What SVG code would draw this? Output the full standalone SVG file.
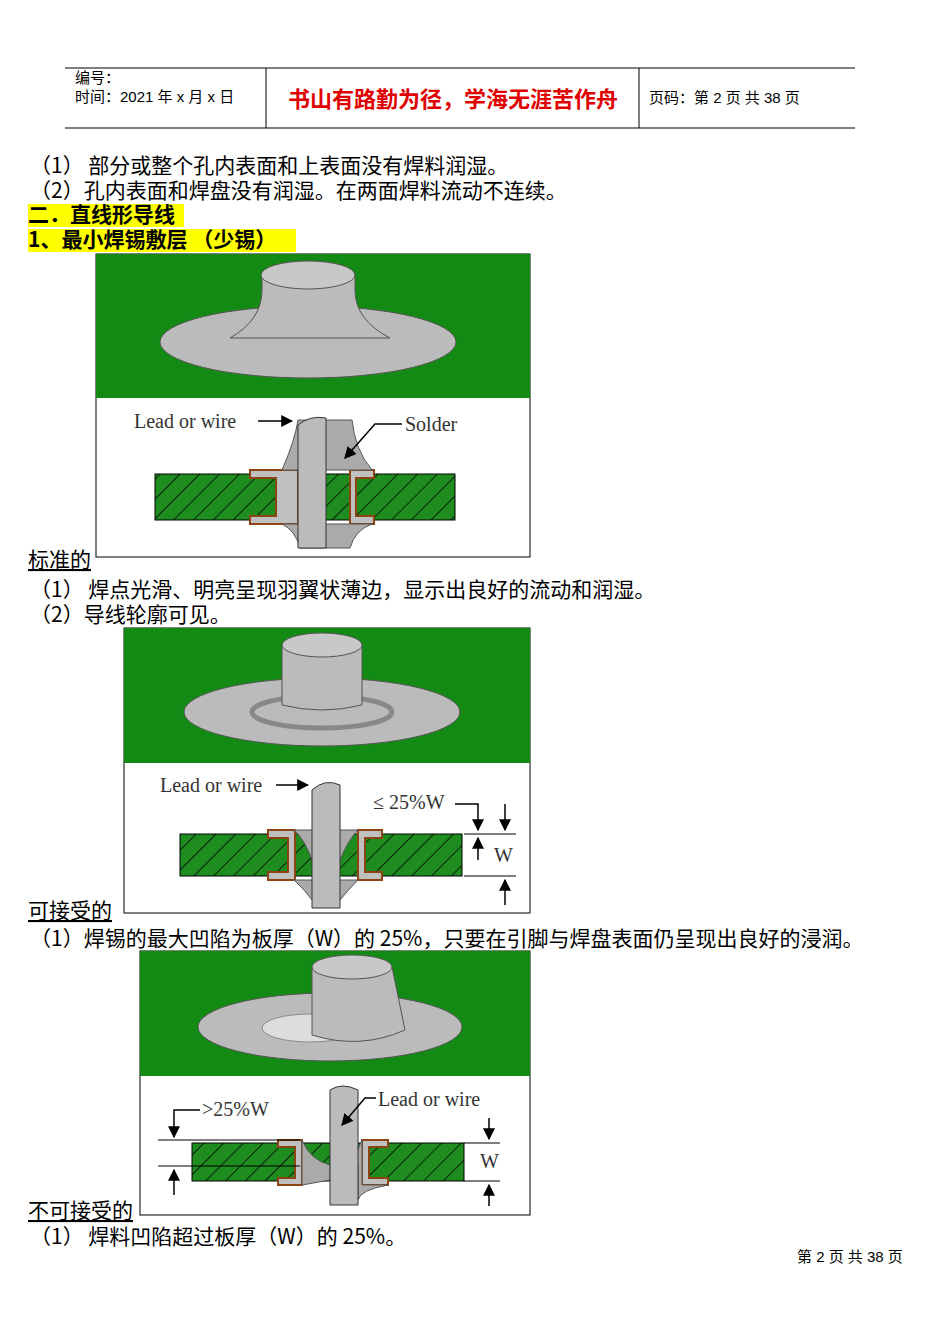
<svg xmlns="http://www.w3.org/2000/svg" width="950" height="1344" viewBox="0 0 950 1344">
<defs>
<style>
.t{font-family:"Noto Sans CJK SC","Liberation Serif",serif;font-size:21px;fill:#000}
.s{font-family:"Liberation Sans","Noto Sans CJK SC",sans-serif;font-size:15px;fill:#000}
.lab{font-family:"Liberation Serif",serif;font-size:20px;fill:#333}
.g{fill:#138a13}
.pad{fill:#c0c0c0;stroke:#8b4513;stroke-width:2}
.ln{stroke:#000;stroke-width:1.5;fill:none}
.bd{fill:#fff;stroke:#000;stroke-width:1}
</style>
<pattern id="h" width="14" height="14" patternUnits="userSpaceOnUse" patternTransform="rotate(45)"><rect width="14" height="14" fill="#1e8c1e"/><line x1="0" y1="0" x2="0" y2="14" stroke="#000" stroke-width="1.5"/></pattern>
<marker id="a" viewBox="0 0 10 10" refX="9" refY="5" markerWidth="8" markerHeight="8" orient="auto"><path d="M0,0L10,5L0,10z" fill="#000"/></marker>
</defs>
<rect width="950" height="1344" fill="#fff"/>
<g id="header">
<line x1="65" y1="68" x2="855" y2="68" stroke="#000"/>
<line x1="65" y1="128" x2="855" y2="128" stroke="#000"/>
<line x1="266" y1="68" x2="266" y2="128" stroke="#000"/>
<line x1="639" y1="68" x2="639" y2="128" stroke="#000"/>
<text x="75" y="83" class="s">编号：</text>
<text x="75" y="102" class="s">时间：2021 年 x 月 x 日</text>
<text x="453" y="107" text-anchor="middle" style="font-family:'Noto Sans CJK SC',sans-serif;font-size:22px;font-weight:bold;fill:#e00000">书山有路勤为径，学海无涯苦作舟</text>
<text x="649" y="103" class="s">页码：第 2 页 共 38 页</text>
</g>
<text x="30" y="173" class="t">（1） 部分或整个孔内表面和上表面没有焊料润湿。</text>
<text x="30" y="198" class="t">（2）孔内表面和焊盘没有润湿。在两面焊料流动不连续。</text>
<rect x="28" y="204" width="156" height="23" fill="#ffff00"/>
<text x="28" y="222" class="t" font-weight="bold">二．直线形导线</text>
<rect x="28" y="229" width="268" height="23" fill="#ffff00"/>
<text x="28" y="247" class="t" font-weight="bold">1、最小焊锡敷层 （少锡）</text>

<g id="img1">
<rect x="96" y="254" width="434" height="303" class="bd"/>
<rect x="96" y="254" width="434" height="144" class="g"/>
<ellipse cx="308" cy="342" rx="148" ry="36" fill="#bbb" stroke="#555"/>
<path d="M262,275 L262,290 Q262,320 230,338 L390,338 Q355,320 355,290 L355,275Z" fill="#bbb" stroke="#555"/>
<ellipse cx="308" cy="275" rx="47" ry="14" fill="#c8c8c8" stroke="#555"/>
<rect x="155" y="474" width="300" height="46" fill="url(#h)" stroke="#000"/>
<path d="M250,470 L298,470 L298,524 L250,524 L250,516 L276,516 L276,478 L250,478Z" class="pad"/>
<path d="M374,470 L350,470 L350,524 L374,524 L374,516 L356,516 L356,478 L374,478Z" class="pad"/>
<path d="M282,470 Q295,440 298,420 L352,420 Q355,450 372,470Z M282,524 Q295,530 300,548 L350,548 Q355,530 372,524Z" fill="#aaa" stroke="#555"/>
<path d="M298,425 Q310,415 326,418 L326,548 L298,548Z" fill="#bbb" stroke="#333"/>
<text x="134" y="428" class="lab">Lead or wire</text>
<line x1="258" y1="421" x2="292" y2="421" class="ln" marker-end="url(#a)"/>
<text x="405" y="431" class="lab">Solder</text>
<polyline points="402,424 375,424 345,458" class="ln" marker-end="url(#a)"/>
</g>
<text x="28" y="567" class="t" text-decoration="underline">标准的</text>
<text x="30" y="597" class="t">（1） 焊点光滑、明亮呈现羽翼状薄边，显示出良好的流动和润湿。</text>
<text x="30" y="622" class="t">（2）导线轮廓可见。</text>

<g id="img2">
<rect x="124" y="628" width="406" height="285" class="bd"/>
<rect x="124" y="628" width="406" height="135" class="g"/>
<ellipse cx="322" cy="712" rx="138" ry="34" fill="#bbb" stroke="#555"/>
<ellipse cx="322" cy="712" rx="70" ry="16" fill="none" stroke="#888" stroke-width="5"/>
<path d="M282,645 L282,705 Q322,715 362,705 L362,645Z" fill="#bbb" stroke="#555"/>
<ellipse cx="322" cy="645" rx="40" ry="12" fill="#c8c8c8" stroke="#555"/>
<rect x="180" y="834" width="282" height="42" fill="url(#h)" stroke="#000"/>
<path d="M268,830 L295,830 L295,880 L268,880 L268,872 L288,872 L288,838 L268,838Z" class="pad"/>
<path d="M382,830 L358,830 L358,880 L382,880 L382,872 L365,872 L365,838 L382,838Z" class="pad"/>
<path d="M294,830 Q305,840 312,860 L340,860 Q348,840 358,830Z M294,880 Q305,890 312,900 L340,900 Q348,890 358,880Z" fill="#aaa" stroke="#555"/>
<path d="M312,790 Q325,778 340,785 L340,908 L312,908Z" fill="#bbb" stroke="#333"/>
<text x="160" y="792" class="lab">Lead or wire</text>
<line x1="276" y1="785" x2="308" y2="785" class="ln" marker-end="url(#a)"/>
<text x="373" y="809" class="lab">≤ 25%W</text>
<polyline points="455,804 478,804 478,830" class="ln" marker-end="url(#a)"/>
<line x1="464" y1="834" x2="516" y2="834" stroke="#000"/>
<line x1="464" y1="876" x2="516" y2="876" stroke="#000"/>
<line x1="505" y1="804" x2="505" y2="830" class="ln" marker-end="url(#a)"/>
<line x1="478" y1="860" x2="478" y2="838" class="ln" marker-end="url(#a)"/>
<line x1="505" y1="905" x2="505" y2="880" class="ln" marker-end="url(#a)"/>
<text x="494" y="862" class="lab">W</text>
</g>
<text x="28" y="918" class="t" text-decoration="underline">可接受的</text>
<text x="30" y="946" class="t">（1）焊锡的最大凹陷为板厚（W）的 25%，只要在引脚与焊盘表面仍呈现出良好的浸润。</text>

<g id="img3">
<rect x="140" y="951" width="390" height="264" class="bd"/>
<rect x="140" y="951" width="390" height="125" class="g"/>
<ellipse cx="330" cy="1027" rx="132" ry="34" fill="#bbb" stroke="#555"/>
<ellipse cx="310" cy="1028" rx="48" ry="14" fill="#ddd" stroke="#888"/>
<path d="M312,967 L312,1035 Q360,1050 405,1030 L392,967Z" fill="#bbb" stroke="#555"/>
<ellipse cx="352" cy="967" rx="40" ry="12" fill="#c8c8c8" stroke="#555"/>
<rect x="192" y="1143" width="272" height="38" fill="url(#h)" stroke="#000"/>
<path d="M278,1140 L302,1140 L302,1185 L278,1185 L278,1178 L295,1178 L295,1147 L278,1147Z" class="pad"/>
<path d="M388,1140 L362,1140 L362,1185 L388,1185 L388,1178 L369,1178 L369,1147 L388,1147Z" class="pad"/>
<path d="M302,1140 Q310,1160 330,1165 L330,1180 L302,1185Z M362,1140 Q352,1160 358,1165 L358,1200 Q360,1190 388,1185 L362,1185Z" fill="#aaa" stroke="#555"/>
<path d="M330,1090 Q342,1082 358,1090 L358,1205 L330,1205Z" fill="#bbb" stroke="#333"/>
<text x="378" y="1106" class="lab">Lead or wire</text>
<polyline points="376,1098 365,1098 342,1125" class="ln" marker-end="url(#a)"/>
<text x="202" y="1116" class="lab">&gt;25%W</text>
<polyline points="200,1110 174,1110 174,1137" class="ln" marker-end="url(#a)"/>
<line x1="158" y1="1140" x2="300" y2="1140" stroke="#000"/>
<line x1="158" y1="1166" x2="300" y2="1166" stroke="#000"/>
<line x1="174" y1="1195" x2="174" y2="1170" class="ln" marker-end="url(#a)"/>
<line x1="464" y1="1143" x2="500" y2="1143" stroke="#000"/>
<line x1="464" y1="1181" x2="500" y2="1181" stroke="#000"/>
<line x1="489" y1="1118" x2="489" y2="1139" class="ln" marker-end="url(#a)"/>
<line x1="489" y1="1206" x2="489" y2="1185" class="ln" marker-end="url(#a)"/>
<text x="480" y="1168" class="lab">W</text>
</g>
<text x="28" y="1218" class="t" text-decoration="underline">不可接受的</text>
<text x="30" y="1244" class="t">（1） 焊料凹陷超过板厚（W）的 25%。</text>
<text x="797" y="1262" class="s" font-size="13">第 2 页 共 38 页</text>
</svg>
